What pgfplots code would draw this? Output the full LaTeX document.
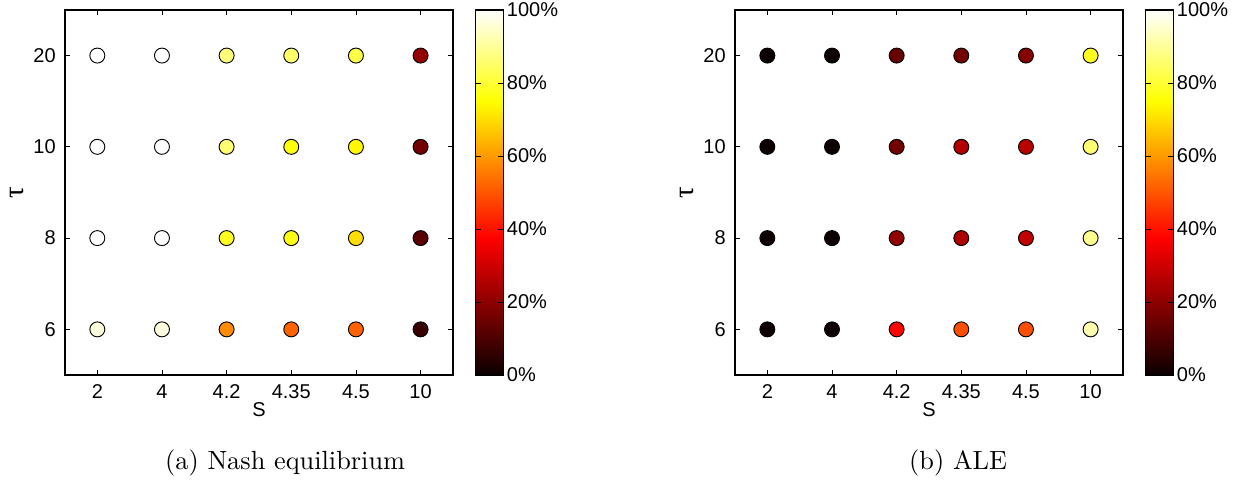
\documentclass[border=0pt]{standalone}
\usepackage{fontspec}
\usepackage{pgfplots}
\pgfplotsset{compat=1.18}
\usepackage{pgfplotstable}
\newfontfamily\hv{Liberation Sans}
\newfontfamily\tauf{Liberation Serif}

\pgfplotstableread{
x y c
0 3 100
1 3 100
2 3 87
3 3 85
4 3 82
5 3 21
0 2 100
1 2 100
2 2 86
3 2 76
4 2 74
5 2 16
0 1 100
1 1 100
2 1 78
3 1 77
4 1 70
5 1 12
0 0 97
1 0 97
2 0 58
3 0 52
4 0 52
5 0 7
}\nash

\pgfplotstableread{
x y c
0 3 0
1 3 0
2 3 14
3 3 16
4 3 19
5 3 78
0 2 0
1 2 0
2 2 16
3 2 26
4 2 27
5 2 86
0 1 0
1 1 0
2 1 21
3 1 25
4 1 28
5 1 89
0 0 0
1 0 0
2 0 38
3 0 49
4 0 49
5 0 92
}\ale

\pgfplotsset{
  myaxis/.style={
    scale only axis,
    width=147.5pt, height=138.8pt,
    anchor=south west,
    xmin=-0.5, xmax=5.5, ymin=-0.5, ymax=3.5,
    xtick={0,1,2,3,4,5}, xticklabels={2,4,4.2,4.35,4.5,10},
    ytick={0,1,2,3}, yticklabels={6,8,10,20},
    tick align=inside, major tick length=2pt,
    tick style={black, line width=0.3pt},
    axis line style={line width=0.5pt},
    tick label style={font=\hv\fontsize{7.6}{9}\selectfont},
    label style={font=\hv\fontsize{7.6}{9}\selectfont},
    xlabel={S},
    ylabel={\tauf\fontsize{11}{12}\selectfont τ},
    xlabel style={at={(axis description cs:0.5,0)}, anchor=center, yshift=-13.3pt},
    ylabel style={at={(axis description cs:0,0.5)}, anchor=center, yshift=18.3pt},
    colormap={mhot}{rgb(0cm)=(0.0417,0,0) rgb(3cm)=(1,0,0) rgb(6cm)=(1,1,0) rgb(8cm)=(1,1,1)},
    point meta min=0, point meta max=100,
    colorbar,
    colorbar style={
      at={(parent axis.north east)}, anchor=north west, xshift=0pt,
      scale only axis, width=10.6pt, height=138.8pt,
      ytick={0,20,40,60,80,100},
      yticklabels={0\%,20\%,40\%,60\%,80\%,100\%},
      yticklabel pos=right, ytick pos=both,
      tick align=inside, major tick length=2pt,
      axis line style={line width=0.5pt},
      yticklabel style={font=\hv\fontsize{7.6}{9}\selectfont, inner sep=1.2pt},
    },
  },
  myscatter/.style={scatter, only marks, mark=*, mark size=2.85pt,
    point meta=explicit,
    scatter/use mapped color={draw=black, fill=mapped color, line width=0.35pt}},
}

\begin{document}
\begin{tikzpicture}
\path[use as bounding box] (0,0) rectangle (473.38pt,185.17pt);
\begin{axis}[myaxis, at={(24.71pt,42.59pt)}]
\addplot[myscatter] table[x=x, y=y, meta=c] {\nash};
\end{axis}
\begin{axis}[myaxis, at={(279.47pt,42.59pt)}]
\addplot[myscatter] table[x=x, y=y, meta=c] {\ale};
\end{axis}
\node at (108.4pt,9.1pt) {(a) Nash equilibrium};
\node at (364.3pt,9.1pt) {(b) ALE};
\end{tikzpicture}
\end{document}
